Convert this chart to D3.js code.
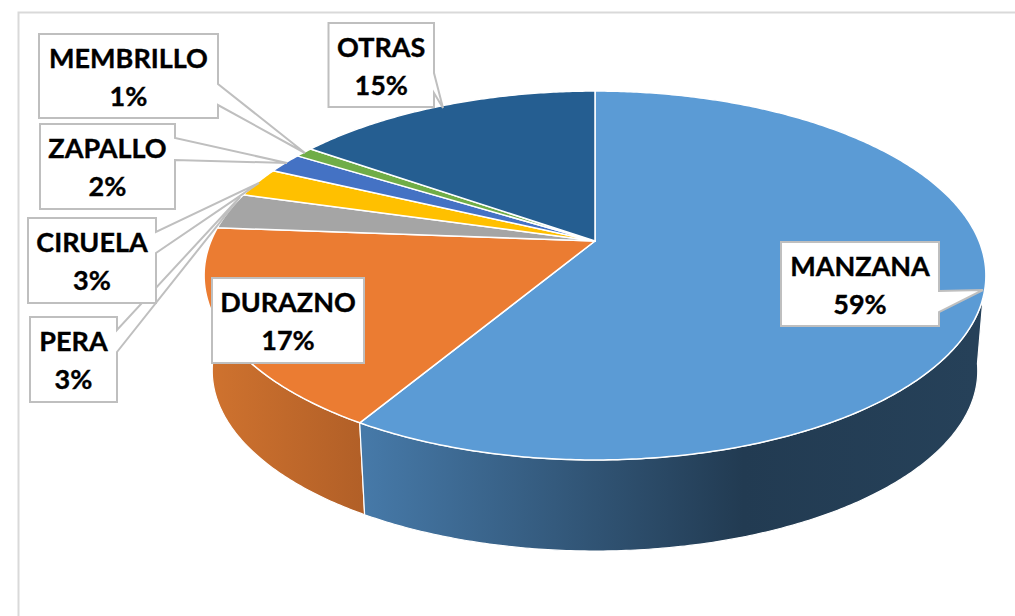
<!DOCTYPE html>
<html><head><meta charset="utf-8">
<script src="https://cdn.jsdelivr.net/npm/d3@7"></script>
<style>html,body{margin:0;padding:0;background:#fff}svg{display:block}</style>
</head><body><div id="c"></div>
<script>
const categories = ["MANZANA","DURAZNO","PERA","CIRUELA","ZAPALLO","MEMBRILLO","OTRAS"];
const values = [58.6,17.6,3.2,2.6,1.8,0.9,15.3];
const percentLabels = ["59%","17%","3%","3%","2%","1%","15%"];
const colors = ["#5B9BD5","#EB7C32","#A5A5A5","#FFC000","#4472C4","#70AD47","#255E91"];
// label box layout: [x0,y0,x1,y1, baseY1, baseY2, tipX, tipY]
const labelBoxes = {
  PERA:[30,317,117,402,330,352,240,197],
  CIRUELA:[28,218,156,303,232,253,259,183],
  ZAPALLO:[40,124,175,209,138,160,287,163],
  MEMBRILLO:[39,34,218,118,84,105,305,153],
  OTRAS:[328.5,23,434,107,73,93,443,108],
  DURAZNO:[212,278,364,363,null,null,null,null],
  MANZANA:[781,242,939,326,291,312,983,290]
};
const labelOrder = ["PERA","CIRUELA","ZAPALLO","MEMBRILLO","OTRAS","DURAZNO","MANZANA"];

const W=1015,H=616;
const svg=d3.select("#c").append("svg").attr("width",W).attr("height",H);
const defs=svg.append("defs");
function grad(id,x1,x2,stops){
  const g=defs.append("linearGradient").attr("id",id).attr("gradientUnits","userSpaceOnUse")
    .attr("x1",x1).attr("x2",x2).attr("y1",0).attr("y2",0);
  stops.forEach(s=>g.append("stop").attr("offset",s[0]).attr("stop-color",s[1]));
}
grad("sideM",365,975,[[0,"#4679A8"],[0.62,"#223B52"],[1,"#264159"]]);
grad("sideD",205,366,[[0,"#D0732F"],[1,"#B15F27"]]);

// frame
svg.append("path").attr("d",`M18.5,${H}V12.5H${W}`).attr("fill","none").attr("stroke","#d9d9d9").attr("stroke-width",2);

// tilted disc: perspective projection of the unit circle
const k=0.187;
const xTop=d3.scaleLinear().domain([-1,1]).range([595-384,595+384]);
const yTop=d3.scaleLinear().domain([-1,1]).range([241-178,241+178]);
const xBot=d3.scaleLinear().domain([-1,1]).range([595-376,595+376]);
const yBot=d3.scaleLinear().domain([-1,1]).range([337-174,337+174]);
function proj(t,xs,ys){
  const u=Math.sin(t),v=-Math.cos(t),w=1-k*v;
  return [xs(u/w),ys(v/w)];
}
const pie=d3.pie().sort(null).value(d=>d);
const arcs=pie(values);
const line=d3.line();
function arcPts(a0,a1,xs,ys){
  const n=Math.max(2,Math.ceil((a1-a0)/0.01));
  return d3.range(n+1).map(i=>proj(a0+(a1-a0)*i/n,xs,ys));
}
// sides (only the front-facing part)
const visStart=1.72, visEnd=4.85;
const fills={0:"url(#sideM)",1:"url(#sideD)"};
[1,0].forEach(i=>{
  const a0=Math.max(arcs[i].startAngle,visStart),a1=Math.min(arcs[i].endAngle,visEnd);
  const pts=arcPts(a0,a1,xTop,yTop).concat(arcPts(a0,a1,xBot,yBot).reverse());
  svg.append("path").attr("d",line(pts)+"Z").attr("fill",fills[i]).attr("stroke","#fff").attr("stroke-width",1.2);
});
// top slices
svg.append("g").selectAll("path").data(arcs).join("path")
  .attr("d",d=>{
    const c=[xTop(0),yTop(0)];
    return line([c].concat(arcPts(d.startAngle,d.endAngle,xTop,yTop)))+"Z";
  })
  .attr("fill",(d,i)=>colors[i]).attr("stroke","#fff").attr("stroke-width",1.5).attr("stroke-linejoin","round");

// data labels
labelOrder.forEach(name=>{
  const i=categories.indexOf(name);
  const [x0,y0,x1,y1,b1,b2,tx,ty]=labelBoxes[name];
  let d;
  if(tx===null){ d=`M${x0},${y0}H${x1}V${y1}H${x0}Z`; }
  else { d=`M${x0},${y0}H${x1}V${b1}L${tx},${ty}L${x1},${b2}V${y1}H${x0}Z`; }
  svg.append("path").attr("d",d).attr("fill","#fff").attr("stroke","#bfbfbf").attr("stroke-width",2);
  const cx=(x0+x1)/2;
  const t=svg.append("text").attr("text-anchor","middle").attr("fill","#000")
    .style("font-family","Lato, sans-serif").style("font-weight",700).style("font-size","27px")
    .attr("stroke","#000").attr("stroke-width",0.35);
  t.append("tspan").attr("x",cx).attr("y",y0+34).text(name);
  t.append("tspan").attr("x",cx).attr("y",y0+72).text(percentLabels[i]);
});
</script></body></html>
